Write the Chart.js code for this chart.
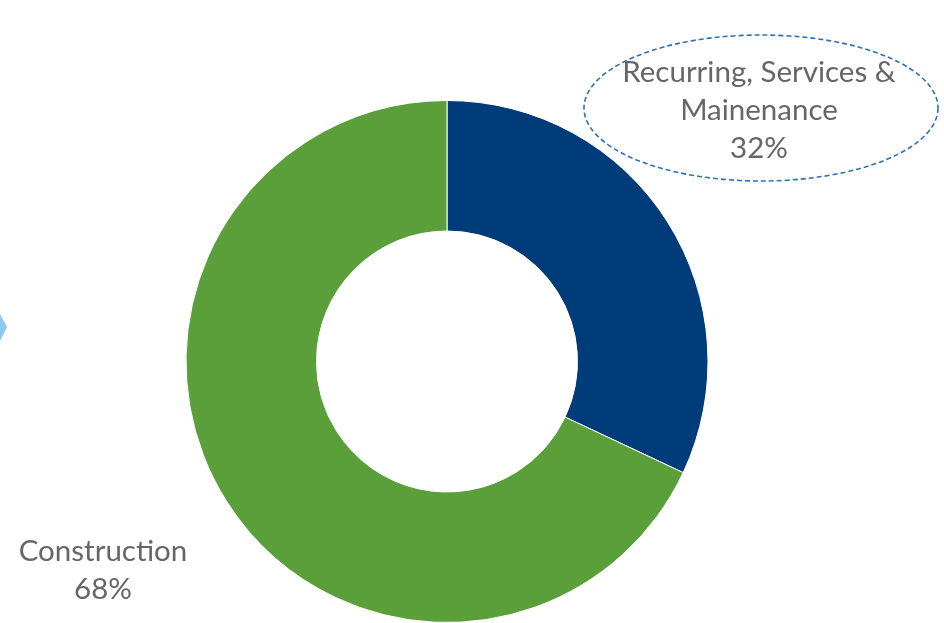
<!DOCTYPE html>
<html>
<head>
<meta charset="utf-8">
<script src="https://cdn.jsdelivr.net/npm/chart.js@4"></script>
<style>
  html, body { margin: 0; padding: 0; background: #fff; }
  #wrap { width: 944px; height: 623px; position: relative; }
</style>
</head>
<body>
<div id="wrap"><canvas id="chartSegments"></canvas></div>
<script>
const categories = ["Recurring, Services & Mainenance", "Construction"]
const labelLines = [["Recurring, Services &", "Mainenance"], ["Construction"]]
const shares = [32, 68]
const colours = ["#003B7A", "#5B9F3A"]

// labels drawn by hand, like the callouts in the original slide
const calloutPlugin = {
  id: 'callouts',
  afterDraw(chart) {
    const ctx = chart.ctx
    ctx.save()

    // small light blue shape on the left edge
    ctx.fillStyle = '#8DC9EE'
    ctx.beginPath()
    ctx.moveTo(0, 314)
    ctx.lineTo(7, 327)
    ctx.lineTo(0, 341)
    ctx.closePath()
    ctx.fill()

    // dashed ellipse around the first label
    ctx.strokeStyle = '#2E70B6'
    ctx.lineWidth = 1.6
    ctx.setLineDash([5, 3])
    ctx.beginPath()
    ctx.ellipse(761, 108, 177, 73, 0, 0, Math.PI * 2)
    ctx.stroke()
    ctx.setLineDash([])

    ctx.fillStyle = '#666666'
    ctx.font = '29.5px Lato'
    ctx.textAlign = 'center'
    ctx.textBaseline = 'middle'

    const spots = [{x: 759, y: 72}, {x: 103, y: 551}]
    for (let i = 0; i < shares.length; i++) {
      const lines = labelLines[i].concat([shares[i] + '%'])
      for (let j = 0; j < lines.length; j++) {
        ctx.fillText(lines[j], spots[i].x, spots[i].y + j * 38)
      }
    }
    ctx.restore()
  }
}

const config = {
  type: 'doughnut',
  data: {
    labels: categories,
    datasets: [{
      data: shares,
      backgroundColor: colours,
      borderColor: '#ffffff',
      borderWidth: 1
    }]
  },
  options: {
    responsive: true,
    maintainAspectRatio: false,
    animation: false,
    cutout: '50%',
    layout: { padding: { left: 185, right: 235, top: 100, bottom: 0 } },
    plugins: {
      legend: { display: false },
      tooltip: { enabled: false },
      title: { display: false }
    }
  },
  plugins: [calloutPlugin]
}

const myChart = new Chart(document.getElementById('chartSegments'), config)
</script>
</body>
</html>
